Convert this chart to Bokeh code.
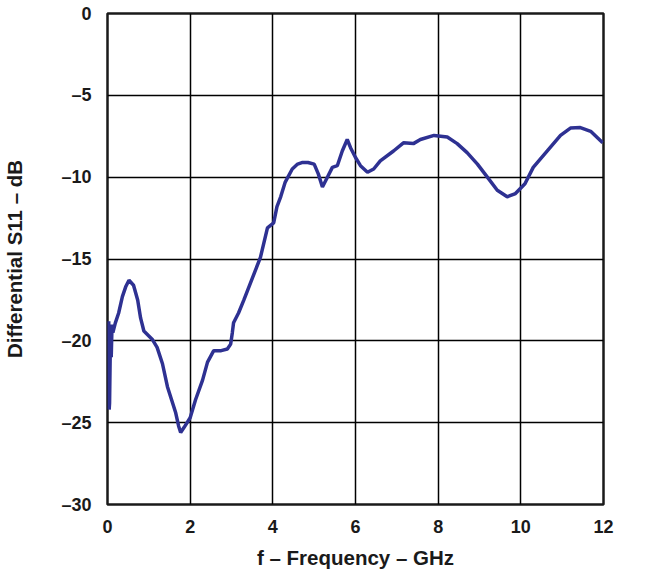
from bokeh.plotting import figure
from bokeh.models import Range1d, FixedTicker
from bokeh.embed import file_html
from bokeh.resources import INLINE

freq_ghz = [0.03, 0.04, 0.05, 0.07, 0.09, 0.11, 0.13, 0.19, 0.27, 0.36, 0.44, 0.52, 0.63, 0.73,
            0.8, 0.88, 1.0, 1.08, 1.2, 1.33, 1.45, 1.55, 1.65, 1.72, 1.77, 1.85, 2.0, 2.13, 2.3,
            2.42, 2.57, 2.75, 2.9, 2.98, 3.02, 3.05, 3.17, 3.3, 3.5, 3.7, 3.87, 4.02, 4.1, 4.19,
            4.3, 4.47, 4.6, 4.72, 4.85, 5.0, 5.1, 5.2, 5.32, 5.44, 5.56, 5.68, 5.8, 5.88, 6.0,
            6.12, 6.29, 6.44, 6.6, 6.92, 7.16, 7.4, 7.57, 7.9, 8.22, 8.46, 8.7, 8.95, 9.19, 9.43,
            9.67, 9.87, 10.1, 10.3, 10.64, 10.96, 11.2, 11.44, 11.69, 11.98]
s11_db = [-18.8, -24.2, -23.8, -20.0, -21.0, -19.0, -19.5, -18.9, -18.3, -17.3, -16.7, -16.3, -16.6, -17.5,
          -18.6, -19.4, -19.7, -19.9, -20.4, -21.4, -22.8, -23.6, -24.4, -25.2, -25.6, -25.3, -24.7, -23.6, -22.4,
          -21.3, -20.6, -20.6, -20.5, -20.2, -19.5, -18.9, -18.3, -17.5, -16.2, -14.9, -13.1, -12.8, -11.8, -11.2,
          -10.3, -9.5, -9.2, -9.1, -9.1, -9.2, -9.8, -10.6, -10.0, -9.4, -9.3, -8.4, -7.7, -8.2, -8.8,
          -9.3, -9.7, -9.5, -9.0, -8.4, -7.9, -7.95, -7.7, -7.45, -7.55, -7.95, -8.5, -9.2, -10.0, -10.8,
          -11.2, -11.0, -10.4, -9.4, -8.4, -7.45, -7.0, -6.97, -7.2, -7.9]

x_ticks = [0, 2, 4, 6, 8, 10, 12]
y_ticks = [-30, -25, -20, -15, -10, -5, 0]
y_tick_labels = {-30: "\u201330", -25: "\u201325", -20: "\u201320", -15: "\u201315",
                 -10: "\u201310", -5: "\u20135", 0: "0"}

p = figure(width=629, height=573, output_backend="svg", toolbar_location=None,
           x_range=Range1d(0, 12), y_range=Range1d(-30, 0),
           min_border_left=107, min_border_right=26, min_border_top=13, min_border_bottom=69)

p.line(freq_ghz, s11_db, line_color="#2E3192", line_width=3.5)

font = "Liberation Sans"
for ax in (p.xaxis, p.yaxis):
    ax.axis_line_color = None
    ax.major_tick_line_color = None
    ax.minor_tick_line_color = None
    ax.major_label_text_font = font
    ax.major_label_text_font_style = "bold"
    ax.major_label_text_font_size = "18px"
    ax.major_label_text_color = "#1a1a1a"
    ax.axis_label_text_font = font
    ax.axis_label_text_font_style = "bold"
    ax.axis_label_text_font_size = "20.5px"
    ax.axis_label_text_color = "#1a1a1a"

p.xaxis.ticker = FixedTicker(ticks=x_ticks)
p.yaxis.ticker = FixedTicker(ticks=y_ticks)
p.yaxis.major_label_overrides = y_tick_labels
p.xaxis.major_label_standoff = 9
p.yaxis.major_label_standoff = 10
p.xaxis.axis_label = "f \u2013 Frequency \u2013 GHz"
p.yaxis.axis_label = "Differential S11 \u2013 dB"
p.xaxis.axis_label_standoff = 10
p.yaxis.axis_label_standoff = 32

p.xgrid.ticker = FixedTicker(ticks=x_ticks)
p.ygrid.ticker = FixedTicker(ticks=y_ticks)
for g in (p.xgrid, p.ygrid):
    g.grid_line_color = "black"
    g.grid_line_width = 1.5
    g.grid_line_alpha = 1.0

p.outline_line_color = "#1a1a1a"
p.outline_line_width = 2.5
p.background_fill_color = "white"
p.border_fill_color = "white"

open("out.html", "w").write(file_html(p, INLINE))
